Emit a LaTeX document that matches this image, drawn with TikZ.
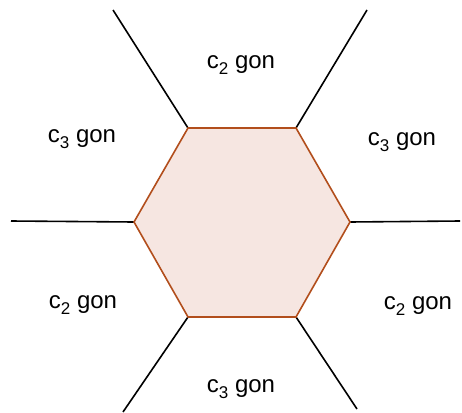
\documentclass[tikz,border=0pt]{standalone}
\usepackage{fontspec}
\setmainfont{Liberation Sans}
\definecolor{hexedge}{RGB}{178,78,28}
\definecolor{hexfill}{RGB}{246,230,225}
\newcommand{\gonsub}[1]{\raisebox{-6.5pt}{\fontsize{17}{20}\selectfont #1}}

\begin{document}
\begin{tikzpicture}[x=1pt, y=-1pt, every node/.style={font=\fontsize{24}{28}\selectfont}, ray/.style={black, line width=1.6pt}]
	\useasboundingbox (0,0) rectangle (462,412);
	% hexagon corners
	\coordinate (tl) at (188,128);
	\coordinate (tr) at (296,128);
	\coordinate (r) at (350,222);
	\coordinate (br) at (296,317);
	\coordinate (bl) at (188,317);
	\coordinate (l) at (134,222);
	% free ends of the rays
	\coordinate (tlo) at (113,10);
	\coordinate (tro) at (367,10);
	\coordinate (ro) at (460,221);
	\coordinate (bro) at (357,409);
	\coordinate (blo) at (123,412);
	\coordinate (lo) at (11,221);
	\draw[ray] (tl) -- (tlo);
	\draw[ray] (tr) -- (tro);
	\draw[ray] (r) -- (ro);
	\draw[ray] (br) -- (bro);
	\draw[ray] (bl) -- (blo);
	\draw[ray] (l) -- (lo);
	\filldraw[draw=hexedge, fill=hexfill, line width=1.6pt, line join=miter] (tl) -- (tr) -- (r) -- (br) -- (bl) -- (l) -- cycle;
	\node (top) at (241,65) {c\gonsub{2} gon};
	\node (upleft) at (82,139) {c\gonsub{3} gon};
	\node (upright) at (402,142) {c\gonsub{3} gon};
	\node (lowleft) at (83,305) {c\gonsub{2} gon};
	\node (lowright) at (418,306) {c\gonsub{2} gon};
	\node (bottom) at (241,389) {c\gonsub{3} gon};
\end{tikzpicture}
\end{document}
